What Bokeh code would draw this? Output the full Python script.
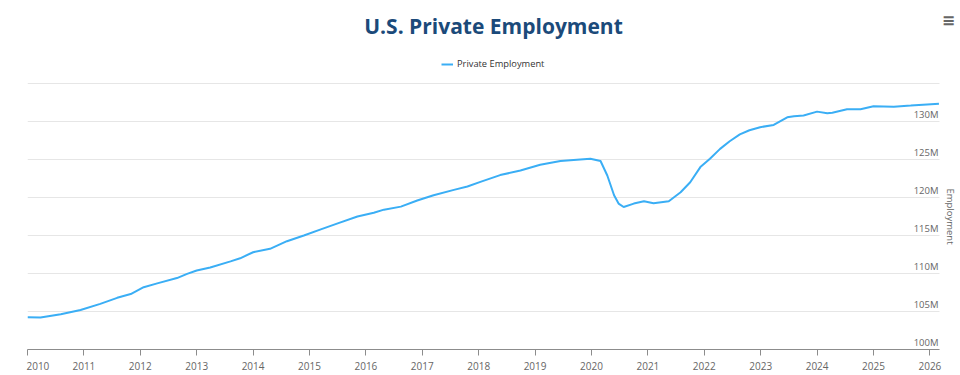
import math
from bokeh.plotting import figure
from bokeh.models import Range1d, FixedTicker, Label, Legend, LegendItem, ColumnDataSource
from bokeh.core.properties import value
from bokeh.embed import file_html
from bokeh.resources import INLINE

chart_title = "U.S. Private Employment"
series_name = "Private Employment"
axis_title = "Employment"

# decimal years and private employment (millions)
dates = [2010.00, 2010.23, 2010.59, 2010.94, 2011.29, 2011.59, 2011.83, 2012.06, 2012.30, 2012.65,
         2012.83, 2013.00, 2013.24, 2013.60, 2013.77, 2014.00, 2014.30, 2014.60, 2014.90, 2015.20,
         2015.50, 2015.85, 2016.14, 2016.32, 2016.62, 2016.91, 2017.20, 2017.56, 2017.80, 2018.03,
         2018.38, 2018.74, 2019.09, 2019.45, 2019.80, 2019.98, 2020.16, 2020.28, 2020.40, 2020.48,
         2020.57, 2020.75, 2020.93, 2021.10, 2021.37, 2021.58, 2021.75, 2021.93, 2022.10, 2022.28,
         2022.45, 2022.63, 2022.80, 2022.99, 2023.23, 2023.47, 2023.59, 2023.76, 2024.00, 2024.18,
         2024.27, 2024.53, 2024.77, 2025.00, 2025.36, 2025.66, 2025.95, 2026.16]
employment = [104.25, 104.2, 104.65, 105.2, 106.0, 106.8, 107.3, 108.2, 108.7, 109.4,
              109.95, 110.4, 110.8, 111.6, 112.0, 112.8, 113.25, 114.25, 115.0, 115.8,
              116.6, 117.5, 118.0, 118.4, 118.8, 119.6, 120.3, 121.0, 121.45, 122.05,
              122.95, 123.55, 124.3, 124.8, 125.0, 125.1, 124.8, 122.9, 120.3, 119.2,
              118.75, 119.2, 119.5, 119.25, 119.5, 120.7, 122.0, 124.0, 125.1, 126.4,
              127.4, 128.3, 128.85, 129.25, 129.55, 130.55, 130.7, 130.8, 131.3, 131.1,
              131.15, 131.6, 131.6, 132.0, 131.95, 132.1, 132.25, 132.35]

year_ticks = list(range(2010, 2027))
y_ticks = [100, 105, 110, 115, 120, 125, 130, 135]
y_label_values = [100, 105, 110, 115, 120, 125, 130]
y_label_texts = ["100M", "105M", "110M", "115M", "120M", "125M", "130M"]

# plot-area extent (data units); the frame is extended upward/rightward to hold title etc.
X_START, AXIS_END = 2010.0, 2026.17
Y_START, Y_TOP = 100, 135
W, H = 960, 375
LEFT, BOTTOM = 27, 26
PLOT_W, PLOT_H = 912, 266          # size of the real plotting area in px
frame_w, frame_h = W - LEFT, H - BOTTOM
x_end = X_START + (AXIS_END - X_START) * frame_w / PLOT_W
y_end = Y_START + (Y_TOP - Y_START) * frame_h / PLOT_H

p = figure(width=W, height=H, output_backend="svg", toolbar_location=None,
           x_range=Range1d(X_START, x_end), y_range=Range1d(Y_START, y_end),
           y_axis_location=None,
           min_border_left=LEFT, min_border_right=0, min_border_top=0, min_border_bottom=BOTTOM)
p.outline_line_color = None
p.background_fill_color = "white"
p.border_fill_color = "white"
p.xgrid.visible = False
p.ygrid.visible = False

# horizontal gridlines across the plotting area
p.segment(x0=[X_START] * len(y_ticks), x1=[AXIS_END] * len(y_ticks), y0=y_ticks, y1=y_ticks,
          line_color="#e6e6e6", line_width=1)

line_color = "#3aaef5"
src = ColumnDataSource(dict(x=dates, y=employment))
r = p.line("x", "y", source=src, line_color=line_color, line_width=2)

# x axis
xa = p.xaxis[0]
xa.bounds = (X_START, AXIS_END)
xa.ticker = FixedTicker(ticks=year_ticks)
# first label is pushed right so it starts at the tick (kept inside the chart)
xa.major_label_overrides = {2010: "\u00a0" * 8 + "2010"}
xa.major_label_text_font = "Open Sans"
xa.major_label_text_font_size = "10px"
xa.major_label_text_color = "#666666"
xa.axis_line_color = "#8c8c8c"
xa.major_tick_line_color = "#8c8c8c"
xa.major_tick_out = 6
xa.major_tick_in = 0
xa.minor_tick_line_color = None
xa.major_label_standoff = 3

# y tick labels drawn inside the plot, above gridlines
p.text(x=[AXIS_END] * len(y_label_values), y=y_label_values, text=y_label_texts,
       text_align="right", text_baseline="bottom", x_offset=-1, y_offset=-1,
       text_font=value("Open Sans"), text_font_size="9.5px", text_color="#666666")

# y-axis title
p.add_layout(Label(x=923, y=133, x_units="screen", y_units="screen", text=axis_title,
                   angle=-math.pi / 2, text_align="center", text_baseline="middle",
                   text_font="Open Sans", text_font_size="9.5px", text_color="#666666"))

# title
p.add_layout(Label(x=466, y=324, x_units="screen", y_units="screen", text=chart_title,
                   text_align="center", text_baseline="middle",
                   text_font="Open Sans", text_font_style="bold", text_font_size="21px",
                   text_color="#1b4a7a"))
# menu icon
p.add_layout(Label(x=921, y=329, x_units="screen", y_units="screen", text="\u2261",
                   text_align="center", text_baseline="middle",
                   text_font="DejaVu Sans", text_font_style="bold", text_font_size="16px",
                   text_color="#666666"))

legend = Legend(items=[LegendItem(label=series_name, renderers=[r])],
                location=(414, 279), orientation="horizontal",
                border_line_color=None, background_fill_alpha=0,
                label_text_font="Open Sans", label_text_font_size="9.3px",
                label_text_color="#333333", glyph_width=12, glyph_height=12,
                padding=0, margin=0, label_standoff=4)
p.add_layout(legend, "center")

open("out.html", "w").write(file_html(p, INLINE))
